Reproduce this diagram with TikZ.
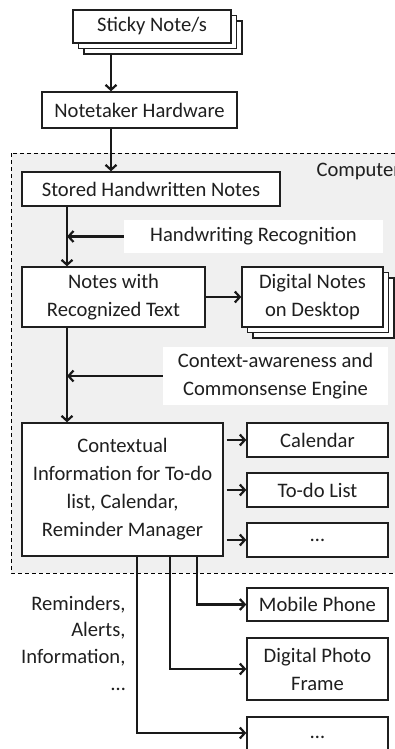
\documentclass[tikz,border=0pt]{standalone}
\usepackage{fontspec}
\setmainfont{Carlito}
\usetikzlibrary{arrows.meta,shadows,calc}
\begin{document}
\begin{tikzpicture}[x=1pt,y=-1pt,
  txt/.style={font=\fontsize{20.6}{28}\selectfont, text=black!88},
  box/.style={txt, draw=black!88, line width=1.4pt, fill=white, inner sep=0pt, align=center},
  stack/.style={box, double copy shadow={shadow xshift=5.5pt, shadow yshift=-5.5pt}},
  lbl/.style={txt, fill=white, inner sep=0pt, align=center},
  arr/.style={draw=black!90, line width=2.2pt, -{Straight Barb[length=5pt,width=11pt]}},
]
\useasboundingbox (0,0) rectangle (395,749);
% computer area
\draw[dashed, dash pattern=on 4pt off 3pt, line width=1pt, fill=black!6] (11,153) rectangle (420,573);
\node[txt, anchor=base west] (comp) at (313,176) {Computer};

\node[stack, minimum width=158pt, minimum height=33pt] (sticky) at (152,26.5) {Sticky Note/s};
\node[box, minimum width=195pt, minimum height=36pt] (hw) at (139.5,110) {Notetaker Hardware};
\node[box, minimum width=258pt, minimum height=34pt] (stored) at (151,189) {Stored Handwritten Notes};
\node[lbl, minimum width=259pt, minimum height=33pt] (hr) at (253.5,236.5) {Handwriting Recognition};
\node[box, minimum width=183pt, minimum height=60pt] (nrt) at (113.5,297) {Notes with\\Recognized Text};
\node[stack, minimum width=141pt, minimum height=60pt] (dnd) at (312.5,297) {Digital Notes\\on Desktop};
\node[lbl, minimum width=225pt, minimum height=58pt] (ctx) at (275.5,376) {Context-awareness and\\Commonsense Engine};
\node[box, minimum width=201pt, minimum height=133pt] (cinfo) at (122.5,489.5) {Contextual\\Information for To-do\\list, Calendar,\\Reminder Manager};
\node[box, minimum width=141pt, minimum height=34pt] (cal) at (317.5,440) {Calendar};
\node[box, minimum width=141pt, minimum height=34pt] (todo) at (317.5,490) {To-do List};
\node[box, minimum width=141pt, minimum height=34pt] (dotsa) at (317.5,540) {…};
\node[box, minimum width=141pt, minimum height=33pt] (mobile) at (317.5,604.5) {Mobile Phone};
\node[box, minimum width=141pt, minimum height=62pt] (dpf) at (317.5,669) {Digital Photo\\Frame};
\node[box, minimum width=141pt, minimum height=40pt, text depth=0pt] (dotsb) at (317.5,737) {…};
\node[txt, align=right, anchor=east, font=\fontsize{20.6}{26.7}\selectfont] (rem) at (129,643) {Reminders,\\Alerts,\\Information,\\…};

% connectors
\coordinate (a1) at (111,54);
\coordinate (m) at (67,0);
\draw[arr] (a1) -- (a1 |- hw.north);
\draw[arr] (hw.south -| a1) -- (stored.north -| a1);
\draw[arr] (stored.south -| m) -- (nrt.north -| m);
\draw[arr] (hr.west) -- (hr.west -| m);
\draw[arr] (nrt.east) -- (nrt.east -| dnd.west);
\draw[arr] (nrt.south -| m) -- (cinfo.north -| m);
\draw[arr] (ctx.west) -- (ctx.west -| m);
\coordinate (ce) at ($(cinfo.east)+(3,0)$);
\draw[arr] (ce |- cal.west) -- (cal.west);
\draw[arr] (ce |- todo.west) -- (todo.west);
\draw[arr] (ce |- dotsa.west) -- (dotsa.west);
\coordinate (v1) at (197,0);
\coordinate (v2) at (170,0);
\coordinate (v3) at (137,0);
\draw[arr] (cinfo.south -| v1) |- (mobile.west);
\draw[arr] (cinfo.south -| v2) |- (dpf.west);
\draw[arr] (cinfo.south -| v3) |- ($(dotsb.west)+(0,-4)$);
\end{tikzpicture}
\end{document}
